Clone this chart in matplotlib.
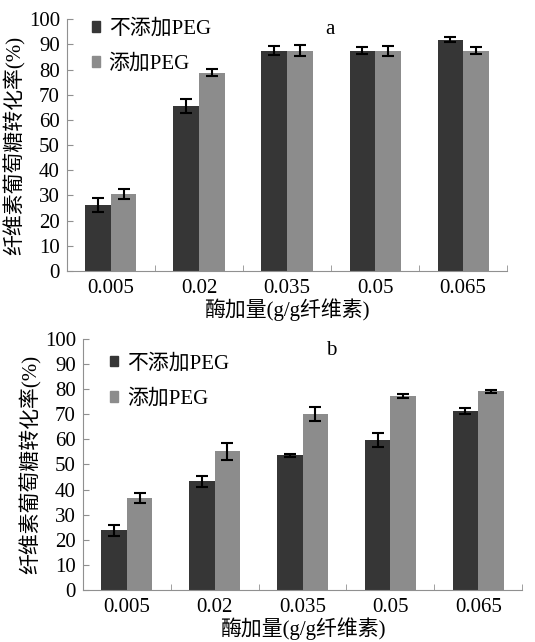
import numpy as np
import matplotlib.pyplot as plt
from matplotlib.patches import Patch

plt.rcParams['font.family'] = ['Liberation Serif', 'Noto Sans CJK SC']

doses = ['0.005', '0.02', '0.035', '0.05', '0.065']
# panel a
a_no_peg = [26.2, 65.7, 87.5, 87.5, 91.8]
a_no_peg_err = [2.6, 2.8, 1.8, 1.3, 1.0]
a_peg = [30.6, 78.7, 87.5, 87.5, 87.5]
a_peg_err = [2.1, 1.4, 2.2, 2.0, 1.3]
# panel b
b_no_peg = [23.8, 43.3, 53.7, 59.8, 71.4]
b_no_peg_err = [2.1, 2.2, 0.6, 2.8, 1.3]
b_peg = [36.6, 55.3, 70.0, 77.4, 79.1]
b_peg_err = [2.0, 3.4, 2.8, 0.8, 0.5]

dark = '#363636'
light = '#8c8c8c'
spine_c = '#909090'
fs = 15

fig = plt.figure(figsize=(5.35, 6.42), dpi=100)
ax_a = fig.add_axes([0.125, 0.578, 0.823, 0.392])
ax_b = fig.add_axes([0.155, 0.081, 0.821, 0.391])

def draw(ax, v1, e1, v2, e2, tag, tag_x, tag_y, leg_x, leg_y):
    x = np.arange(len(doses))
    w = 0.29
    ax.bar(x - w/2, v1, w, color=dark, yerr=e1, capsize=4,
           error_kw=dict(ecolor='black', elinewidth=1.5, capthick=1.5))
    ax.bar(x + w/2, v2, w, color=light, yerr=e2, capsize=4,
           error_kw=dict(ecolor='black', elinewidth=1.5, capthick=1.5))
    ax.set_xlim(-0.5, 4.5)
    ax.set_ylim(0, 100)
    ax.set_yticks(range(0, 101, 10))
    ax.set_xticks(x)
    ax.set_xticklabels(doses)
    ax.set_xticks(np.arange(-0.5, 5, 1), minor=True)
    ax.tick_params(axis='x', which='major', length=0, pad=6, labelsize=fs)
    ax.tick_params(axis='x', which='minor', length=4, color=spine_c, direction='in')
    ax.tick_params(axis='y', length=4, color=spine_c, direction='in', labelsize=fs, pad=5)
    for s in ['top', 'right']:
        ax.spines[s].set_visible(False)
    for s in ['left', 'bottom']:
        ax.spines[s].set_color(spine_c)
    ax.set_xlabel('酶加量(g/g纤维素)', fontsize=fs, labelpad=0)
    ax.set_ylabel('纤维素葡萄糖转化率(%)', fontsize=fs, labelpad=2)
    ax.text(tag_x, tag_y, tag, transform=ax.transAxes, fontsize=fs,
            ha='center', va='center')
    handles = [Patch(color=dark), Patch(color=light)]
    ax.legend(handles, ['不添加PEG', '添加PEG'], loc='upper left',
              bbox_to_anchor=(leg_x, leg_y), frameon=False, fontsize=fs,
              handlelength=0.4, handleheight=0.4, handletextpad=0.4,
              labelspacing=0.75, borderpad=0, borderaxespad=0)

draw(ax_a, a_no_peg, a_no_peg_err, a_peg, a_peg_err, 'a', 0.598, 0.96, 0.057, 1.0)
draw(ax_b, b_no_peg, b_no_peg_err, b_peg, b_peg_err, 'b', 0.565, 0.956, 0.062, 0.94)

fig.savefig('out.png', dpi=100)
